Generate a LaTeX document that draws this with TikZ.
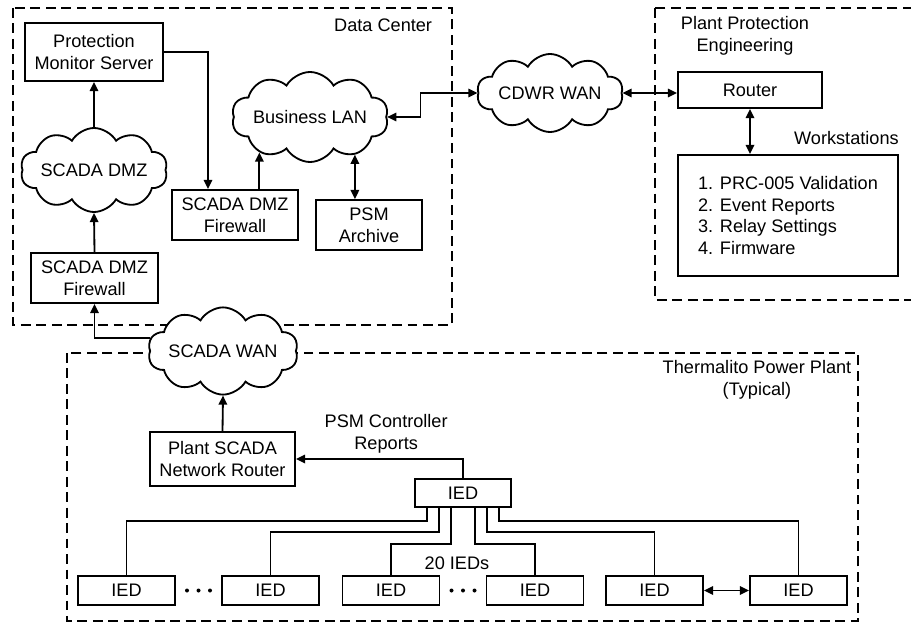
\documentclass[tikz,border=0pt]{standalone}
\usepackage{fontspec}
\setmainfont{Liberation Sans}
\usetikzlibrary{arrows.meta,shapes,positioning,calc}

\tikzset{
    box/.style={draw, line width=1.3pt, fill=white, inner sep=0pt, align=center},
    net/.style={cloud, draw, line width=1.3pt, fill=white, cloud puffs=10,
        cloud puff arc=120, cloud ignores aspect, inner sep=0pt},
    zone/.style={line width=1.3pt, dash pattern=on 7pt off 4pt},
    ied/.style={box, minimum width=2.425cm, minimum height=0.725cm},
    wire/.style={line width=1.3pt},
    link/.style={wire, -{Triangle[length=6.5pt,width=6pt]}},
    dlink/.style={wire, {Triangle[length=6.5pt,width=6pt]}-{Triangle[length=6.5pt,width=6pt]}},
}

\begin{document}
\begin{tikzpicture}[x=0.025cm, y=-0.025cm, font=\fontsize{12.9pt}{15.6pt}\selectfont]
    \useasboundingbox (0,0) rectangle (911,624);

    % The three zones
    \draw[zone] (13,8) rectangle (452,325);
    \node[anchor=east] (dctitle) at (437,25) {Data Center};
    \draw[zone] (655,8) rectangle (925,300);
    \node[align=center] (ppetitle) at (745,36) {Plant Protection\\Engineering};
    \draw[zone] (67,353) rectangle (858,621);
    \node[align=center] (tpptitle) at (757,380) {Thermalito Power Plant\\(Typical)};

    % Data center
    \node[box, minimum width=3.45cm, minimum height=1.45cm] (pms) at (94,52) {Protection\\Monitor Server};
    \node[net, minimum width=3.6cm, minimum height=2.1cm] (dmz) at (94,170) {SCADA DMZ};
    \node[box, minimum width=3.175cm, minimum height=1.25cm] (fwa) at (94.5,278) {SCADA DMZ\\Firewall};
    \node[box, minimum width=3.15cm, minimum height=1.25cm] (fwb) at (235,215) {SCADA DMZ\\Firewall};
    \node[net, minimum width=3.6cm, minimum height=2.25cm] (blan) at (310,117) {Business LAN};
    \node[box, minimum width=2.65cm, minimum height=1.25cm] (parch) at (369,225) {PSM\\Archive};

    \draw[link] (fwa.north) -- (dmz.south);
    \draw[link] (dmz.north) -- (pms.south);
    \draw[link] (pms.east) -| ([xshift=-0.675cm]fwb.north);
    \draw[link] (fwb.north -| blan.-145) -- (blan.-145);
    \draw[dlink] (blan.-40) -- (blan.-40 |- parch.north);

    % WAN and engineering
    \node[net, minimum width=3.65cm, minimum height=1.95cm] (cdwr) at (550,93) {CDWR WAN};
    \node[box, minimum width=3.6cm, minimum height=0.9cm] (router) at (750,90) {Router};
    \node[box, align=left, minimum width=5.5cm, minimum height=3.025cm] (ws) at (788,215.5)
        {1. PRC-005 Validation\\2. Event Reports\\3. Relay Settings\\4. Firmware};
    \node[anchor=south east, inner sep=0pt] (wslabel) at ([yshift=0.225cm]ws.north east) {Workstations};

    \draw[dlink] (cdwr.west) -- ++(-57,0) |- (blan.east);
    \draw[dlink] (cdwr.east) -- (router.west |- cdwr.east);
    \draw[dlink] (router.south) -- (router.south |- ws.north);

    % Plant
    \node[net, minimum width=3.58cm, minimum height=2.18cm] (swan) at (223,351) {SCADA WAN};
    \node[box, minimum width=3.625cm, minimum height=1.35cm] (prouter) at (222.5,459) {Plant SCADA\\Network Router};
    \node[box, minimum width=2.4cm, minimum height=0.7cm] (ied) at (463,493) {IED};

    \draw[link] (swan.170) -| (fwa.south);
    \draw[link] (prouter.north) -- (swan.south);
    \draw[link] (ied.north) |- (prouter.east)
        node[pos=0.73, above, align=center] {PSM Controller\\Reports};

    \foreach \n/\x in {e1/126.5, e2/270.5, e3/391, e4/535, e5/654.5, e6/798.5}
        \node[ied] (\n) at (\x,590.5) {IED};

    \foreach \dx/\lvl/\tgt in {-0.9/0.325/e1, -0.6/0.6/e2, -0.3/0.9/e3,
                               0.3/0.9/e4, 0.6/0.6/e5, 0.9/0.325/e6}
        \draw[wire] ([xshift=\dx cm]ied.south) -- ++(0,-\lvl cm) -| (\tgt.north);

    \foreach \a/\b in {e1/e2, e3/e4}
        \foreach \k in {-1,0,1}
            \fill ($(\a.east)!0.5!(\b.west)$) ++(\k*11.5,0) circle (0.05cm);

    \draw[dlink] (e5.east) -- (e6.west);
    \node (count) at (457,563) {20 IEDs};
\end{tikzpicture}
\end{document}
